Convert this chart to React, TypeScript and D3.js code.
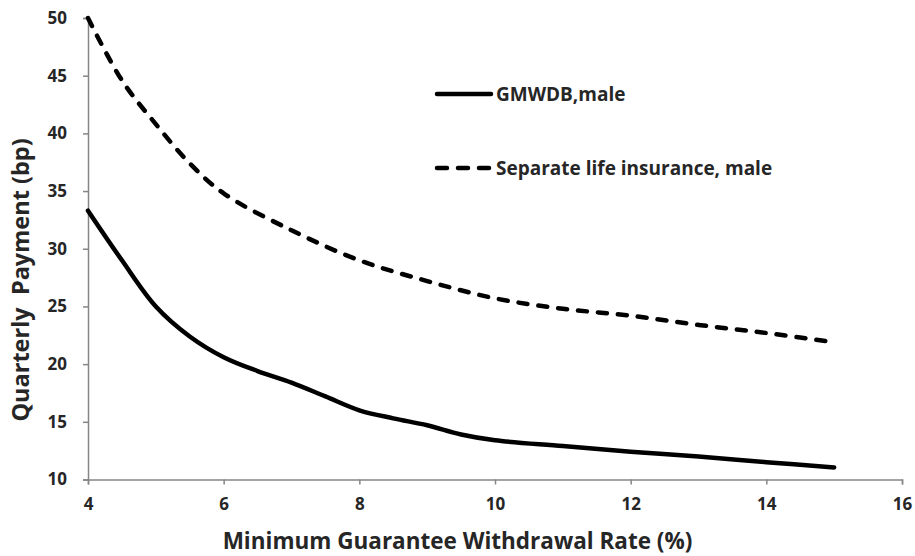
import React, { useEffect, useRef } from "react";
import * as d3 from "d3";

const xTicks = [4, 6, 8, 10, 12, 14, 16];
const yTicks = [10, 15, 20, 25, 30, 35, 40, 45, 50];

const gmwdbX = [4, 4.5, 5, 5.5, 6, 6.5, 7, 7.5, 8, 8.5, 9, 9.5, 10, 11, 12, 13, 14, 15];
const gmwdbY = [33.3, 29.0, 25.0, 22.4, 20.6, 19.4, 18.4, 17.2, 16.0, 15.3, 14.7, 13.9, 13.4, 12.9, 12.4, 12.0, 11.5, 11.05];

const lifeX = [4, 4.5, 5, 5.5, 6, 7, 8, 9, 10, 11, 12, 13, 14, 15];
const lifeY = [50, 44.6, 40.8, 37.4, 34.8, 31.6, 29.0, 27.2, 25.7, 24.8, 24.2, 23.4, 22.7, 21.9];

const seriesNames = ["GMWDB,male", "Separate life insurance, male"];
const xTitle = "Minimum Guarantee Withdrawal Rate (%)";
const yTitle = "Quarterly  Payment (bp)";

const W = 915;
const H = 556;
const FONT = "'Open Sans', sans-serif";

export default function App() {
  const ref = useRef<SVGSVGElement>(null);

  useEffect(() => {
    const svg = d3.select(ref.current);
    svg.selectAll("*").remove();

    const x = d3.scaleLinear().domain([4, 16]).range([88, 902]);
    const y = d3.scaleLinear().domain([10, 50]).range([479.5, 18]);
    const axisColor = "#868686";
    const textColor = "#262626";

    // y axis
    const gy = svg.append("g").attr("transform", `translate(${x(4)},0)`);
    gy.call(
      d3.axisLeft(y).tickValues(yTicks).tickSize(5).tickPadding(16).tickFormat(d3.format("d"))
    );
    gy.select(".domain").attr("stroke", axisColor).attr("stroke-width", 1.5);
    gy.selectAll(".tick line").attr("stroke", axisColor).attr("stroke-width", 1.5);
    gy.selectAll(".tick text")
      .attr("fill", textColor)
      .style("font-family", FONT)
      .style("font-size", "17px")
      .style("font-weight", "bold");

    // x axis
    const gx = svg.append("g").attr("transform", `translate(0,${y(10)})`);
    gx.call(
      d3.axisBottom(x).tickValues(xTicks).tickSize(5).tickPadding(13).tickFormat(d3.format("d"))
    );
    gx.select(".domain").attr("stroke", axisColor).attr("stroke-width", 1.5);
    gx.selectAll(".tick line").attr("stroke", axisColor).attr("stroke-width", 1.5);
    gx.selectAll(".tick text")
      .attr("fill", textColor)
      .style("font-family", FONT)
      .style("font-size", "17px")
      .style("font-weight", "bold");

    const line = d3
      .line<[number, number]>()
      .x((d) => x(d[0]))
      .y((d) => y(d[1]))
      .curve(d3.curveCatmullRom.alpha(0.5));

    const lifeData = lifeX.map((v, i) => [v, lifeY[i]] as [number, number]);
    const gmData = gmwdbX.map((v, i) => [v, gmwdbY[i]] as [number, number]);

    svg
      .append("path")
      .attr("d", line(lifeData))
      .attr("fill", "none")
      .attr("stroke", "#000")
      .attr("stroke-width", 4.5)
      .attr("stroke-linecap", "round")
      .attr("stroke-dasharray", "9 11");

    svg
      .append("path")
      .attr("d", line(gmData))
      .attr("fill", "none")
      .attr("stroke", "#000")
      .attr("stroke-width", 4.5)
      .attr("stroke-linecap", "round");

    // legend
    const legend = [
      { name: seriesNames[0], y: 94, dash: null },
      { name: seriesNames[1], y: 168, dash: "9 11" },
    ];
    legend.forEach((l) => {
      const p = svg
        .append("line")
        .attr("x1", 437)
        .attr("x2", 491)
        .attr("y1", l.y)
        .attr("y2", l.y)
        .attr("stroke", "#000")
        .attr("stroke-width", 4.5)
        .attr("stroke-linecap", "round");
      if (l.dash) p.attr("stroke-dasharray", "10 11");
      svg
        .append("text")
        .attr("x", 496)
        .attr("y", l.y + 7)
        .attr("fill", textColor)
        .style("font-family", FONT)
        .style("font-size", "19px")
        .style("font-weight", "bold")
        .text(l.name);
    });

    // axis titles
    svg
      .append("text")
      .attr("x", (222 + 693) / 2)
      .attr("y", 549)
      .attr("text-anchor", "middle")
      .attr("fill", textColor)
      .style("font-family", FONT)
      .style("font-size", "22.5px")
      .style("font-weight", "bold")
      .text(xTitle);

    svg
      .append("text")
      .attr("transform", `translate(29,280) rotate(-90)`)
      .attr("text-anchor", "middle")
      .attr("fill", textColor)
      .style("font-family", FONT)
      .style("font-size", "23.5px")
      .style("font-weight", "bold")
      .style("white-space", "pre")
      .text(yTitle);
  }, []);

  return (
    <svg
      ref={ref}
      width={W}
      height={H}
      style={{ position: "absolute", left: 0, top: 0, background: "#fff" }}
    />
  );
}
